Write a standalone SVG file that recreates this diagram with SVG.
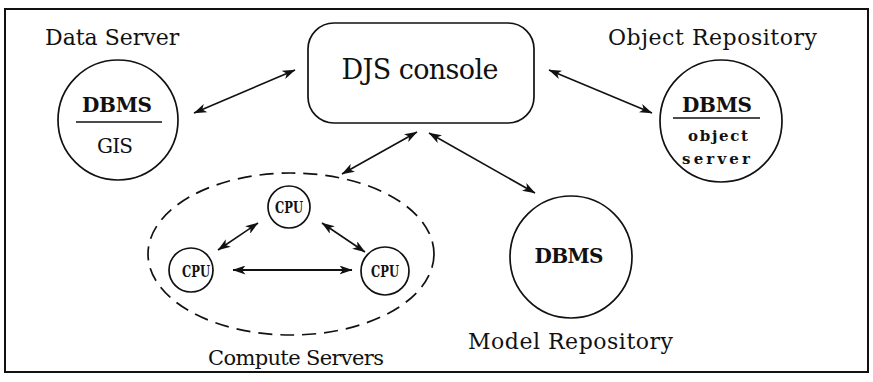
<svg xmlns="http://www.w3.org/2000/svg" width="873" height="382" viewBox="0 0 873 382">
  <style>
    .frame { fill: none; stroke: #111; stroke-width: 2; }
    .node { fill: #fff; stroke: #111; stroke-width: 1.7; }
    .group { fill: none; stroke: #111; stroke-width: 1.7; stroke-dasharray: 14 8; }
    .rule { stroke: #111; stroke-width: 1.6; }
    .conn { fill: none; stroke: #111; stroke-width: 1.6; marker-start: url(#head); marker-end: url(#head); }
    text { font-family: 'DejaVu Serif', 'Liberation Serif', serif; fill: #111; }
    .title { font-size: 22px; }
    .inner { font-size: 20px; font-weight: bold; }
    .plain { font-size: 20px; }
    .small { font-size: 15px; font-weight: bold; }
    .cpu { font-size: 17px; font-weight: bold; font-stretch: condensed; }
    .console { font-size: 27px; }
  </style>
  <defs>
    <marker id="head" viewBox="0 0 13 9" refX="12.5" refY="4.5" markerWidth="13" markerHeight="9" markerUnits="userSpaceOnUse" orient="auto-start-reverse">
      <path d="M0,0 L13,4.5 L0,9 L3.5,4.5 z" fill="#111"/>
    </marker>
  </defs>

  <rect width="873" height="382" fill="#fff"/>
  <rect class="frame" x="5" y="9" width="863" height="363"/>

  <!-- connectors -->
  <g id="connectors">
    <line class="conn" x1="194" y1="113" x2="295" y2="70"/>
    <line class="conn" x1="549" y1="70" x2="652" y2="113"/>
    <line class="conn" x1="417" y1="132" x2="342" y2="174"/>
    <line class="conn" x1="429" y1="133" x2="535" y2="193"/>
    <line class="conn" x1="258" y1="223" x2="218" y2="250"/>
    <line class="conn" x1="322" y1="223" x2="365" y2="252"/>
    <line class="conn" x1="233" y1="270" x2="352" y2="270" style="stroke-width:2.2"/>
  </g>

  <!-- central console -->
  <g id="console">
    <rect class="node" x="308" y="23" width="226" height="100" rx="26" ry="26"/>
    <text class="console" x="420" y="79" text-anchor="middle" textLength="157">DJS console</text>
  </g>

  <!-- data server -->
  <g id="data-server">
    <text class="title" x="45" y="45">Data Server</text>
    <circle class="node" cx="118" cy="120" r="60"/>
    <text class="inner" x="117" y="112" text-anchor="middle" textLength="70">DBMS</text>
    <line class="rule" x1="76" y1="122" x2="162" y2="122"/>
    <text class="plain" x="115" y="153" text-anchor="middle" textLength="36">GIS</text>
  </g>

  <!-- object repository -->
  <g id="object-repository">
    <text class="title" x="608" y="45" textLength="209">Object Repository</text>
    <circle class="node" cx="721" cy="121" r="61"/>
    <text class="inner" x="717" y="112" text-anchor="middle" textLength="70">DBMS</text>
    <line class="rule" x1="673" y1="118" x2="760" y2="118"/>
    <text class="small" x="718" y="141" text-anchor="middle" textLength="60">object</text>
    <text class="small" x="716" y="164" text-anchor="middle" textLength="68">server</text>
  </g>

  <!-- model repository -->
  <g id="model-repository">
    <circle class="node" cx="571" cy="257" r="61"/>
    <text class="inner" x="569" y="263" text-anchor="middle" textLength="69">DBMS</text>
    <text class="title" x="468" y="349" textLength="205">Model Repository</text>
  </g>

  <!-- compute servers -->
  <g id="compute-servers">
    <ellipse class="group" cx="291" cy="254" rx="143" ry="81"/>
    <text class="title" x="208" y="365" style="font-size:21px" textLength="176">Compute Servers</text>
  </g>
  <g id="cpu-top">
    <circle class="node" cx="289" cy="207" r="21"/>
    <text class="cpu" x="289" y="213" text-anchor="middle" textLength="28" lengthAdjust="spacingAndGlyphs">CPU</text>
  </g>
  <g id="cpu-left">
    <circle class="node" cx="191" cy="270" r="22"/>
    <text class="cpu" x="196" y="277" text-anchor="middle" textLength="28" lengthAdjust="spacingAndGlyphs">CPU</text>
  </g>
  <g id="cpu-right">
    <circle class="node" cx="385" cy="271" r="24"/>
    <text class="cpu" x="385" y="277" text-anchor="middle" textLength="28" lengthAdjust="spacingAndGlyphs">CPU</text>
  </g>
</svg>
